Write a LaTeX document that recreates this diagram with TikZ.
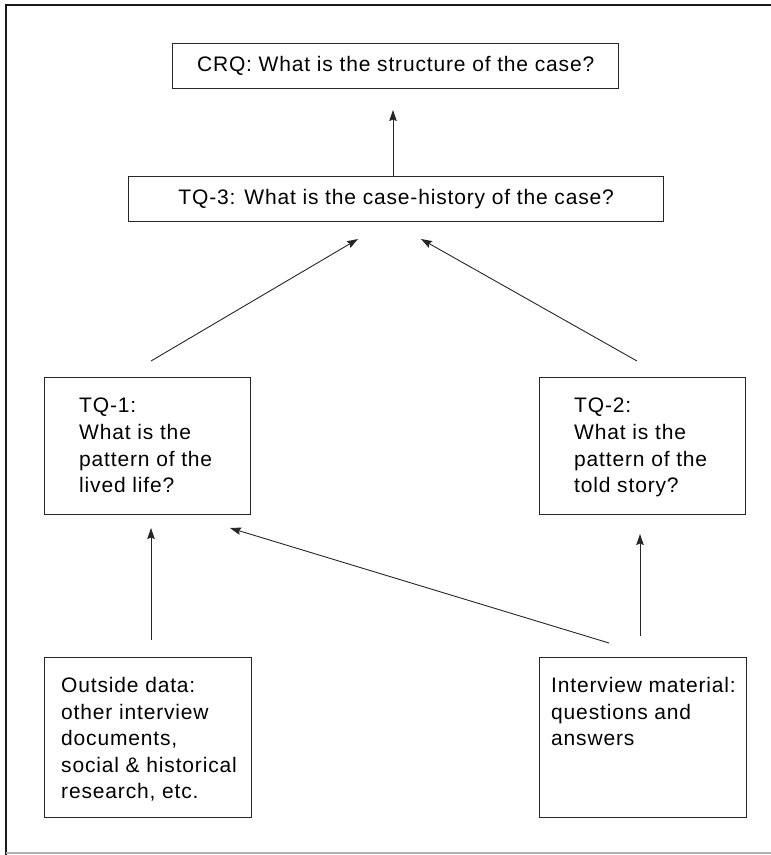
\documentclass[tikz,border=0pt]{standalone}
\usepackage{fontspec}
\setmainfont{Liberation Sans}[LetterSpace=4]
\usetikzlibrary{arrows.meta}
\begin{document}
\begin{tikzpicture}[x=1pt,y=-1pt,
  boxline/.style={draw=black!85, line width=1.3pt},
  box/.style={boxline, rectangle, inner sep=0pt, anchor=north west},
  txt/.style={inner sep=0pt, anchor=north west, align=left, font=\fontsize{21}{26.6}\selectfont},
  ctxt/.style={inner sep=0pt, font=\fontsize{21}{26.6}\selectfont},
  conn/.style={draw=black!85, line width=0.9pt, -{Stealth[length=11pt,width=7.5pt,inset=1.5pt]}}]
\useasboundingbox (0,0) rectangle (771,855);
% frame
\draw[black!90, line width=2.2pt] (6,855) -- (6,5) -- (771,5);
\draw[black!30, line width=1.5pt] (6,853) -- (771,853);
% top boxes
\node[box, minimum width=446pt, minimum height=45pt] (crq) at (172,43) {};
\node[ctxt] (crqt) at (crq.center) {CRQ: What is the structure of the case?};
\node[box, minimum width=535pt, minimum height=45pt] (tq3) at (128,176) {};
\node[ctxt] (tq3t) at (tq3.center) {TQ-3: What is the case-history of the case?};
% middle boxes
\node[box, minimum width=206pt, minimum height=137pt] (tq1) at (44,377) {};
\node[txt] (tq1t) at (79,398) {TQ-1:\\What is the\\pattern of the\\lived life?};
\node[box, minimum width=206pt, minimum height=137pt] (tq2) at (539,377) {};
\node[txt] (tq2t) at (574,398) {TQ-2:\\What is the\\pattern of the\\told story?};
% bottom boxes
\node[box, minimum width=207pt, minimum height=160pt] (out) at (44,657) {};
\node[txt] (outt) at (61,677) {Outside data:\\other interview\\documents,\\social \& historical\\research, etc.};
\node[box, minimum width=207pt, minimum height=160pt] (int) at (539,657) {};
\node[txt] (intt) at (551,677) {Interview material:\\questions and\\answers};
% connector ends
\coordinate (a1s) at (393,176);
\coordinate (a1e) at (393,110);
\coordinate (a2s) at (151,361);
\coordinate (a2e) at (358,239);
\coordinate (a3s) at (637,361);
\coordinate (a3e) at (421,239);
\coordinate (a4s) at (151,640);
\coordinate (a4e) at (151,528);
\coordinate (a5s) at (640,636);
\coordinate (a5e) at (640,534);
\coordinate (a6s) at (609,643);
\coordinate (a6e) at (230,528);
\draw[conn] (a1s) -- (a1e);
\draw[conn] (a2s) -- (a2e);
\draw[conn] (a3s) -- (a3e);
\draw[conn] (a4s) -- (a4e);
\draw[conn] (a5s) -- (a5e);
\draw[conn] (a6s) -- (a6e);
\end{tikzpicture}
\end{document}
